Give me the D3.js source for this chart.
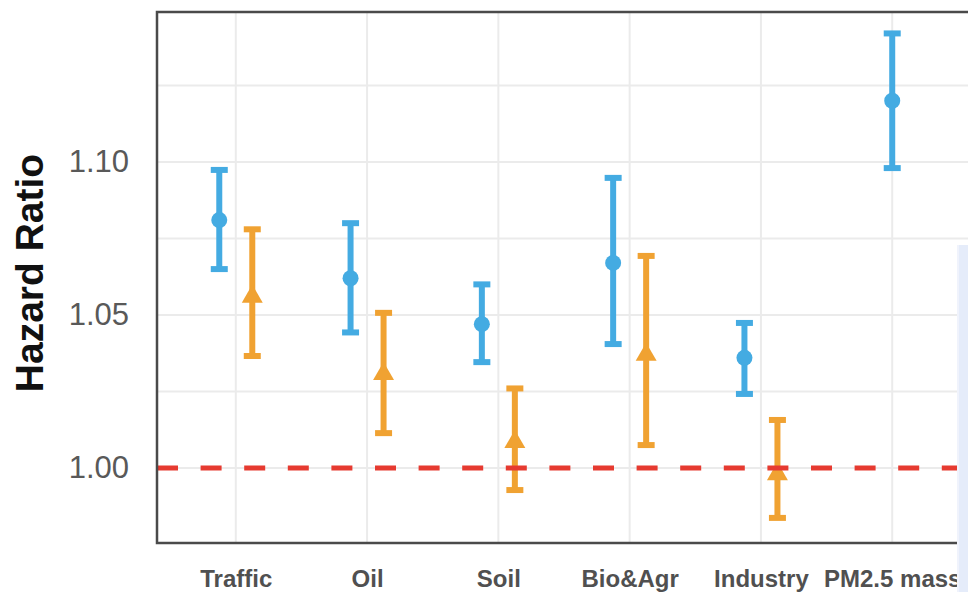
<!DOCTYPE html>
<html>
<head>
<meta charset="utf-8">
<script src="https://cdn.jsdelivr.net/npm/d3@7"></script>
<style>
  html, body { margin: 0; padding: 0; background: #ffffff; }
  svg { display: block; }
</style>
</head>
<body>
<svg id="chart" width="968" height="592"></svg>
<script>
// ---- data ----
const categories = ["Traffic", "Oil", "Soil", "Bio&Agr", "Industry", "PM2.5 mass"];
const blueEst = [1.081, 1.062, 1.047, 1.067, 1.036, 1.120];
const blueLow = [1.065, 1.0443, 1.0346, 1.0405, 1.0242, 1.098];
const blueHigh = [1.0974, 1.080, 1.060, 1.0948, 1.0474, 1.142];
const orangeEst = [1.056, 1.0307, 1.0085, 1.037, 0.998, null];
const orangeLow = [1.0366, 1.0114, 0.9928, 1.0075, 0.9837, null];
const orangeHigh = [1.078, 1.0507, 1.026, 1.0693, 1.0157, null];
const yTicks = [1.00, 1.05, 1.10];
const yGrid = [1.00, 1.025, 1.05, 1.075, 1.10, 1.125];
const refValue = 1.00;
const yTitle = "Hazard Ratio";

// ---- layout ----
const W = 968, H = 592;
const panel = { left: 157, top: 12, right: 971, bottom: 543 };
const BLUE = "#44abe2", ORANGE = "#f0a232", RED = "#e63a30";

const svg = d3.select("#chart");

const x = d3.scalePoint().domain(categories).range([panel.left, panel.right]).padding(0.6);
const y = d3.scaleLinear().domain([0.9755, 1.149]).range([panel.bottom, panel.top]);
const dodge = 16.5;

// grid
const grid = svg.append("g");
grid.selectAll("line.h").data(yGrid).join("line")
  .attr("x1", panel.left).attr("x2", panel.right)
  .attr("y1", d => y(d)).attr("y2", d => y(d))
  .attr("stroke", "#ebebeb").attr("stroke-width", 2);
grid.selectAll("line.v").data(categories).join("line")
  .attr("x1", d => x(d)).attr("x2", d => x(d))
  .attr("y1", panel.top).attr("y2", panel.bottom)
  .attr("stroke", "#ebebeb").attr("stroke-width", 2);

// build series rows
const seriesList = [
  { name: "blue", color: BLUE, shape: "circle", est: blueEst, lo: blueLow, hi: blueHigh },
  { name: "orange", color: ORANGE, shape: "triangle", est: orangeEst, lo: orangeLow, hi: orangeHigh }
];
const rows = [];
categories.forEach((c, i) => {
  const present = seriesList.filter(s => s.est[i] != null);
  present.forEach((s, k) => {
    const off = present.length === 1 ? 0 : (k === 0 ? -dodge : dodge);
    rows.push({ cat: c, cx: x(c) + off, est: s.est[i], lo: s.lo[i], hi: s.hi[i], color: s.color, shape: s.shape });
  });
});

const capHalf = 8.5;
const eb = svg.append("g");
rows.forEach(r => {
  const g = eb.append("g").attr("stroke", r.color).attr("stroke-width", 6).attr("fill", "none");
  g.append("line").attr("x1", r.cx).attr("x2", r.cx).attr("y1", y(r.hi)).attr("y2", y(r.lo));
  g.append("line").attr("x1", r.cx - capHalf).attr("x2", r.cx + capHalf).attr("y1", y(r.hi)).attr("y2", y(r.hi));
  g.append("line").attr("x1", r.cx - capHalf).attr("x2", r.cx + capHalf).attr("y1", y(r.lo)).attr("y2", y(r.lo));
  if (r.shape === "circle") {
    eb.append("circle").attr("cx", r.cx).attr("cy", y(r.est)).attr("r", 8).attr("fill", r.color);
  } else {
    eb.append("path").attr("d", d3.symbol().type(d3.symbolTriangle).size(190)())
      .attr("transform", `translate(${r.cx},${y(r.est)})`).attr("fill", r.color);
  }
});

// reference line
svg.append("line")
  .attr("x1", panel.left).attr("x2", panel.right)
  .attr("y1", y(refValue)).attr("y2", y(refValue))
  .attr("stroke", RED).attr("stroke-width", 5)
  .attr("stroke-dasharray", "21,22.6");

// panel border
svg.append("rect")
  .attr("x", panel.left).attr("y", panel.top)
  .attr("width", panel.right - panel.left).attr("height", panel.bottom - panel.top)
  .attr("fill", "none").attr("stroke", "#4a4a4a").attr("stroke-width", 2.5);

// axes
const yAxis = svg.append("g").attr("transform", `translate(${panel.left},0)`)
  .call(d3.axisLeft(y).tickValues(yTicks).tickFormat(d3.format(".2f")).tickSize(0).tickPadding(28));
yAxis.select(".domain").remove();
yAxis.selectAll("text").attr("font-family", "Liberation Sans, Arial, sans-serif")
  .attr("font-size", 31).attr("fill", "#595959");

const xAxis = svg.append("g").attr("transform", `translate(0,${panel.bottom})`)
  .call(d3.axisBottom(x).tickSize(0).tickPadding(27));
xAxis.select(".domain").remove();
xAxis.selectAll("text").attr("font-family", "Liberation Sans, Arial, sans-serif")
  .attr("font-size", 24).attr("font-weight", "bold").attr("fill", "#505050");

// y title
svg.append("text")
  .attr("transform", "translate(43,273) rotate(-90)")
  .attr("text-anchor", "middle")
  .attr("font-family", "Liberation Sans, Arial, sans-serif")
  .attr("font-size", 39).attr("font-weight", "bold").attr("fill", "#111")
  .text(yTitle);

// light overlay at right edge
svg.append("rect").attr("x", 957).attr("y", 245).attr("width", W - 957).attr("height", H - 245)
  .attr("fill", "#e5ecfa");
svg.append("rect").attr("x", 957).attr("y", 245).attr("width", 2).attr("height", H - 245)
  .attr("fill", "#f0f3fc");
</script>
</body>
</html>
